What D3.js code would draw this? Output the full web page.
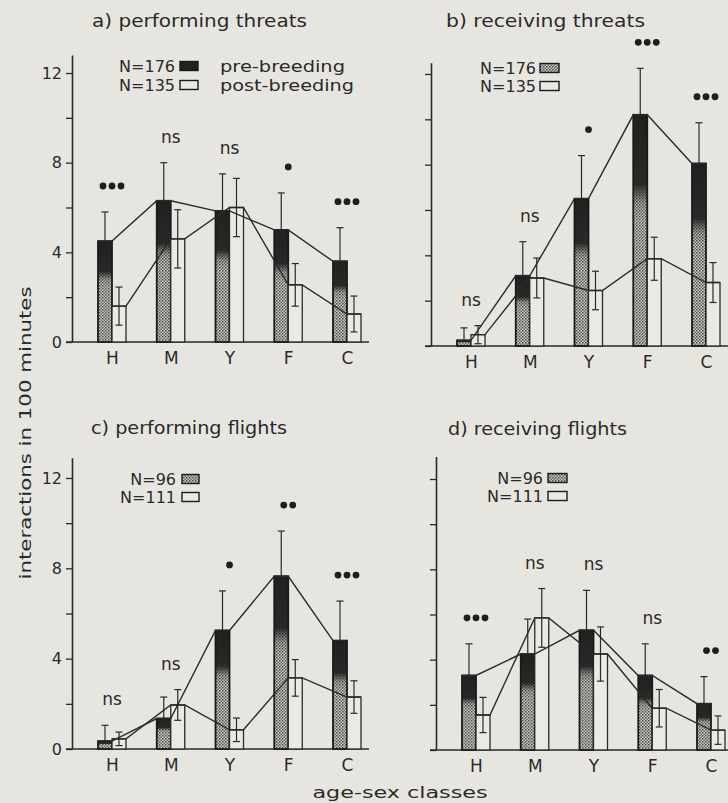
<!DOCTYPE html>
<html>
<head>
<meta charset="utf-8">
<script src="https://cdn.jsdelivr.net/npm/d3@7"></script>
<style>
    body { margin: 0; background: #e7e5e0; }
    svg { display: block; font-family: "DejaVu Sans", sans-serif; }
</style>
</head>
<body>
<svg id="chart" width="728" height="803"></svg>
<script>
// age-sex classes
const categories = ["H", "M", "Y", "F", "C"];
const yTicks = [0, 2, 4, 6, 8, 10, 12];
const yTickLabels = [0, 4, 8, 12];

// a) performing threats
const perfThreatsPre = [4.5, 6.3, 5.85, 5.0, 3.6];
const perfThreatsPreSE = [1.3, 1.7, 1.65, 1.65, 1.5];
const perfThreatsPost = [1.6, 4.6, 6.0, 2.55, 1.25];
const perfThreatsPostSE = [0.85, 1.3, 1.3, 0.95, 0.8];
const perfThreatsSig = ["***", "ns", "ns", "*", "***"];

// b) receiving threats
const recvThreatsPre = [0.25, 3.1, 6.5, 10.2, 8.05];
const recvThreatsPreSE = [0.55, 1.5, 1.9, 2.05, 1.8];
const recvThreatsPost = [0.5, 3.0, 2.45, 3.85, 2.8];
const recvThreatsPostSE = [0.4, 0.88, 0.85, 0.95, 0.88];
const recvThreatsSig = ["ns", "ns", "*", "***", "***"];

// c) performing flights
const perfFlightsPre = [0.35, 1.35, 5.25, 7.65, 4.8];
const perfFlightsPreSE = [0.7, 0.95, 1.75, 2.0, 1.75];
const perfFlightsPost = [0.45, 1.95, 0.85, 3.15, 2.3];
const perfFlightsPostSE = [0.3, 0.68, 0.52, 0.81, 0.72];
const perfFlightsSig = ["ns", "ns", "*", "**", "***"];

// d) receiving flights
const recvFlightsPre = [3.3, 4.25, 5.3, 3.3, 2.05];
const recvFlightsPreSE = [1.4, 1.55, 1.77, 1.4, 1.2];
const recvFlightsPost = [1.55, 5.85, 4.25, 1.85, 0.88];
const recvFlightsPostSE = [0.78, 1.3, 1.2, 0.83, 0.63];
const recvFlightsSig = ["***", "ns", "ns", "ns", "**"];

const threatsN = ["N=176", "N=135"];
const flightsN = ["N=96", "N=111"];
const seasonLabels = ["pre-breeding", "post-breeding"];

const ink = "#2a2a2a";
const paper = "#e7e5e0";
const barW = 14;

const svg = d3.select("#chart");
svg.append("rect").attr("width", 728).attr("height", 803).attr("fill", paper);

let defs = svg.append("defs");
let stipple = defs.append("pattern")
    .attr("id", "stipple")
    .attr("patternUnits", "userSpaceOnUse")
    .attr("width", 3).attr("height", 3);
stipple.append("rect").attr("width", 3).attr("height", 3).attr("fill", "#cbc9c3");
stipple.append("rect").attr("width", 1.5).attr("height", 1.5).attr("fill", "#4a4946");
stipple.append("rect").attr("x", 1.5).attr("y", 1.5).attr("width", 1.5).attr("height", 1.5).attr("fill", "#6a6965");

// dark upper part of the pre-breeding bars
let darkTop = defs.append("linearGradient")
    .attr("id", "darkTop")
    .attr("x1", 0).attr("y1", 0).attr("x2", 0).attr("y2", 1);
darkTop.append("stop").attr("offset", 0).attr("stop-color", "#1a1a1a").attr("stop-opacity", 0.95);
darkTop.append("stop").attr("offset", 0.3).attr("stop-color", "#1a1a1a").attr("stop-opacity", 0.88);
darkTop.append("stop").attr("offset", 0.38).attr("stop-color", "#1a1a1a").attr("stop-opacity", 0.15);
darkTop.append("stop").attr("offset", 0.45).attr("stop-color", "#1a1a1a").attr("stop-opacity", 0);

let panels = [
    {title: "a) performing threats", titleX: 92, titleY: 20, titleLen: 215,
        x0: 72, y0: 342, h12: 269, top: 12.8, tickLabels: true,
        pre: perfThreatsPre, preSE: perfThreatsPreSE, post: perfThreatsPost, postSE: perfThreatsPostSE,
        sig: perfThreatsSig, n: threatsN, nEnd: 175, swX: 180, swW: 18, rows: [66, 85],
        season: true, preSwatch: "dark"},
    {title: "b) receiving threats", titleX: 446, titleY: 20, titleLen: 199,
        x0: 431, y0: 346, h12: 272, top: 12.5, tickLabels: false,
        pre: recvThreatsPre, preSE: recvThreatsPreSE, post: recvThreatsPost, postSE: recvThreatsPostSE,
        sig: recvThreatsSig, n: threatsN, nEnd: 536, swX: 540, swW: 19, rows: [68, 86],
        season: false, preSwatch: "stipple"},
    {title: "c) performing flights", titleX: 91, titleY: 427, titleLen: 196,
        x0: 72, y0: 749, h12: 271, top: 12.9, tickLabels: true,
        pre: perfFlightsPre, preSE: perfFlightsPreSE, post: perfFlightsPost, postSE: perfFlightsPostSE,
        sig: perfFlightsSig, n: flightsN, nEnd: 176, swX: 182, swW: 17, rows: [479, 497],
        season: false, preSwatch: "stipple"},
    {title: "d) receiving flights", titleX: 448, titleY: 428, titleLen: 179,
        x0: 436, y0: 750, h12: 271, top: 13.0, tickLabels: false,
        pre: recvFlightsPre, preSE: recvFlightsPreSE, post: recvFlightsPost, postSE: recvFlightsPostSE,
        sig: recvFlightsSig, n: flightsN, nEnd: 543, swX: 548, swW: 19, rows: [478, 496],
        season: false, preSwatch: "stipple"}
];

function drawPanel(p) {
    let y = d3.scaleLinear().domain([0, p.top]).range([p.y0, p.y0 - p.h12 * p.top / 12]);
    let x = d3.scalePoint().domain(categories).range([p.x0 + 40, p.x0 + 275]);
    let g = svg.append("g");

    g.append("text")
        .attr("x", p.titleX).attr("y", p.titleY)
        .attr("dominant-baseline", "central")
        .attr("font-size", 18).attr("fill", ink)
        .attr("textLength", p.titleLen).attr("lengthAdjust", "spacingAndGlyphs")
        .text(p.title);

    // y axis
    let yAxis = g.append("g")
        .attr("transform", "translate(" + p.x0 + ",0)")
        .call(d3.axisLeft(y)
            .tickValues(yTicks)
            .tickSize(6)
            .tickSizeOuter(0)
            .tickPadding(4)
            .tickFormat(d => p.tickLabels && yTickLabels.includes(d) ? d : ""));
    yAxis.select(".domain").attr("stroke", ink).attr("stroke-width", 1.6);
    yAxis.selectAll(".tick line").attr("stroke", ink).attr("stroke-width", 1.3);
    yAxis.selectAll(".tick text").attr("fill", ink).attr("font-size", 16)
        .attr("font-family", "DejaVu Sans");

    // baseline
    g.append("line")
        .attr("x1", p.x0 - 6).attr("x2", p.x0 + 297)
        .attr("y1", y(0)).attr("y2", y(0))
        .attr("stroke", ink).attr("stroke-width", 1.6);

    // category labels
    let xAxis = g.append("g")
        .attr("transform", "translate(0," + y(0) + ")")
        .call(d3.axisBottom(x).tickSize(0).tickPadding(10));
    xAxis.select(".domain").remove();
    xAxis.selectAll(".tick text").attr("fill", ink).attr("font-size", 17)
        .attr("font-family", "DejaVu Sans");

    let rows = categories.map((c, i) => ({
        c: c, pre: p.pre[i], preSE: p.preSE[i], post: p.post[i], postSE: p.postSE[i], sig: p.sig[i]
    }));

    // pre-breeding bars
    let preBars = g.append("g");
    preBars.selectAll(".pre")
        .data(rows).enter().append("rect")
        .attr("x", d => x(d.c) - barW).attr("width", barW)
        .attr("y", d => y(d.pre)).attr("height", d => y(0) - y(d.pre))
        .attr("fill", "url(#stipple)");
    preBars.selectAll(".preDark")
        .data(rows).enter().append("rect")
        .attr("x", d => x(d.c) - barW).attr("width", barW)
        .attr("y", d => y(d.pre)).attr("height", d => y(0) - y(d.pre))
        .attr("fill", "url(#darkTop)")
        .attr("stroke", "#1a1a1a").attr("stroke-width", 1.8);

    // post-breeding bars
    g.selectAll(".post")
        .data(rows).enter().append("rect")
        .attr("x", d => x(d.c)).attr("width", barW)
        .attr("y", d => y(d.post)).attr("height", d => y(0) - y(d.post))
        .attr("fill", "#ebe9e4")
        .attr("stroke", ink).attr("stroke-width", 1.3);

    // connecting lines across bar tops
    let line = d3.line();
    g.append("path")
        .attr("d", line(rows.flatMap(d => [[x(d.c) - barW, y(d.pre)], [x(d.c), y(d.pre)]])))
        .attr("fill", "none").attr("stroke", ink).attr("stroke-width", 1.4);
    g.append("path")
        .attr("d", line(rows.flatMap(d => [[x(d.c), y(d.post)], [x(d.c) + barW, y(d.post)]])))
        .attr("fill", "none").attr("stroke", ink).attr("stroke-width", 1.4);

    // error bars
    let err = g.append("g").attr("stroke", ink).attr("stroke-width", 1.2);
    rows.forEach(d => {
        let xp = x(d.c) - barW / 2;
        err.append("line").attr("x1", xp).attr("x2", xp).attr("y1", y(d.pre)).attr("y2", y(d.pre + d.preSE));
        err.append("line").attr("x1", xp - 3.5).attr("x2", xp + 3.5)
            .attr("y1", y(d.pre + d.preSE)).attr("y2", y(d.pre + d.preSE));
        let xq = x(d.c) + barW / 2;
        let lo = Math.max(0, d.post - d.postSE), hi = d.post + d.postSE;
        err.append("line").attr("x1", xq).attr("x2", xq).attr("y1", y(lo)).attr("y2", y(hi));
        err.append("line").attr("x1", xq - 3.5).attr("x2", xq + 3.5).attr("y1", y(lo)).attr("y2", y(lo));
        err.append("line").attr("x1", xq - 3.5).attr("x2", xq + 3.5).attr("y1", y(hi)).attr("y2", y(hi));
    });

    // significance marks
    rows.forEach(d => {
        let cy = y(Math.max(d.pre + d.preSE, d.post + d.postSE)) - 26;
        if (d.sig === "ns") {
            g.append("text")
                .attr("x", x(d.c)).attr("y", cy)
                .attr("text-anchor", "middle").attr("dominant-baseline", "central")
                .attr("font-size", 17).attr("fill", ink)
                .text("ns");
        } else {
            let k = d.sig.length;
            for (let j = 0; j < k; j++) {
                g.append("circle")
                    .attr("cx", x(d.c) + (j - (k - 1) / 2) * 9)
                    .attr("cy", cy).attr("r", 3.4)
                    .attr("fill", "#1e1e1e");
            }
        }
    });

    // legend
    p.n.forEach((label, i) => {
        g.append("text")
            .attr("x", p.nEnd).attr("y", p.rows[i])
            .attr("text-anchor", "end").attr("dominant-baseline", "central")
            .attr("font-size", 16).attr("fill", ink)
            .text(label);
        let sw = g.append("rect")
            .attr("x", p.swX).attr("y", p.rows[i] - 4.5)
            .attr("width", p.swW).attr("height", 9)
            .attr("stroke", "#1a1a1a").attr("stroke-width", 1.4);
        if (i === 0) {
            sw.attr("fill", p.preSwatch === "dark" ? "#222" : "url(#stipple)");
        } else {
            sw.attr("fill", "#ebe9e4");
        }
        if (p.season) {
            g.append("text")
                .attr("x", 220).attr("y", p.rows[i])
                .attr("dominant-baseline", "central")
                .attr("font-size", 16).attr("fill", ink)
                .attr("textLength", i === 0 ? 125 : 134).attr("lengthAdjust", "spacingAndGlyphs")
                .text(seasonLabels[i]);
        }
    });
}

panels.forEach(drawPanel);

// shared axis titles
svg.append("text")
    .attr("transform", "translate(25,433) rotate(-90)")
    .attr("text-anchor", "middle").attr("dominant-baseline", "central")
    .attr("font-size", 16).attr("fill", ink)
    .attr("textLength", 293).attr("lengthAdjust", "spacingAndGlyphs")
    .text("interactions in 100 minutes");

svg.append("text")
    .attr("x", 400).attr("y", 792)
    .attr("text-anchor", "middle").attr("dominant-baseline", "central")
    .attr("font-size", 16).attr("fill", ink)
    .attr("textLength", 175).attr("lengthAdjust", "spacingAndGlyphs")
    .text("age-sex classes");
</script>
</body>
</html>
